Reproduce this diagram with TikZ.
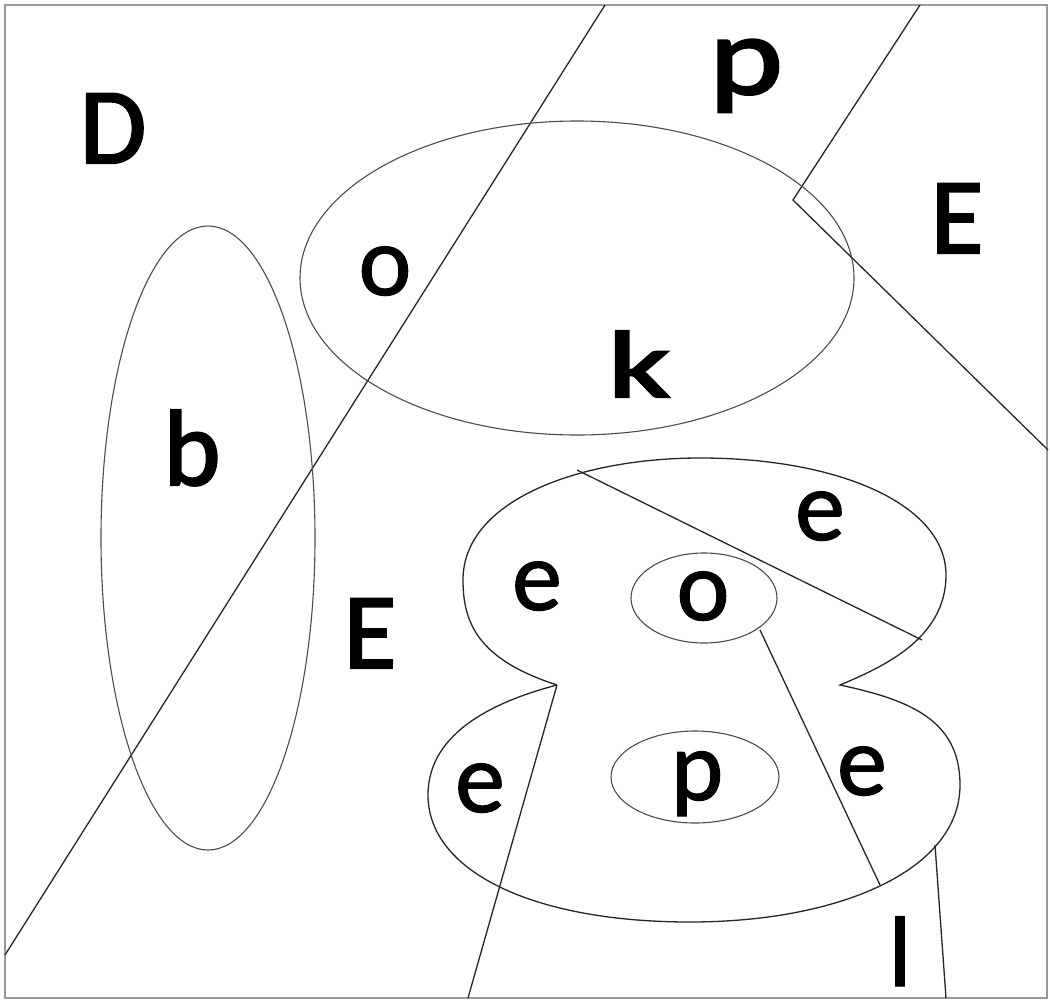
\documentclass[tikz,border=0pt]{standalone}
\usepackage{fontspec}
\setmainfont{Carlito}
\newfontface\heavyface{Carlito}[FakeBold=2.2]
\newfontface\medface{Carlito}[FakeBold=1.2]
\begin{document}
\begin{tikzpicture}[x=1pt,y=-1pt,
  lbl/.style={inner sep=0pt,anchor=base,font=\fontsize{100}{100}\medface},
  big/.style={inner sep=0pt,anchor=base,font=\fontsize{108}{108}\heavyface},
  ln/.style={line width=1.3pt,black!85},
  el/.style={line width=1.1pt,black!70}]
\useasboundingbox (0,0) rectangle (1050,1001);
\fill[white] (0,0) rectangle (1050,1001);
\draw[line width=1.5pt,black!40] (5,5) rectangle (1047,998);
% lines
\draw[ln] (5,955) -- (605,5);
\draw[ln] (920,5) -- (793,200) -- (1048,450);
% ellipses
\draw[el] (577,278) ellipse [x radius=277,y radius=157];
\draw[el] (208,538) ellipse [x radius=107,y radius=312];
% figure eight
\coordinate (nl) at (557,685);
\coordinate (nr) at (840,685);
\draw[ln] (nl) .. controls (480,660) and (463,625) .. (463,580)
  .. controls (463,500) and (580,458) .. (700,458)
  .. controls (840,458) and (946,505) .. (946,575)
  .. controls (946,640) and (880,668) .. (nr)
  .. controls (910,700) and (960,720) .. (960,785)
  .. controls (960,870) and (840,922) .. (690,922)
  .. controls (530,922) and (428,870) .. (428,795)
  .. controls (428,730) and (500,700) .. (nl);
\draw[ln] (577,470) -- (922,640);
\draw[el] (704,598) ellipse [x radius=73,y radius=45];
\draw[el] (695,777) ellipse [x radius=84,y radius=46];
\draw[ln] (760,630) -- (880,885);
\draw[ln] (nl) -- (468,998);
\draw[ln] (935,845) -- (946,998);
% labels
\node[big] (D) at (113,163) {D};
\node[big,font=\fontsize{112}{112}\heavyface] (p1) at (746,94) {\scalebox{1.25}[1]{p}};
\node[big] (E1) at (957,253) {E};
\node[lbl] (o1) at (385,295) {o};
\node[big,font=\fontsize{95}{95}\heavyface] (k) at (639,397) {\scalebox{1.45}[1]{k}};
\node[big] (b) at (192,485) {b};
\node[big] (E2) at (370,668) {E};
\node[lbl] (e1) at (820,540) {e};
\node[lbl] (e2) at (537,610) {e};
\node[lbl] (o2) at (703,620) {o};
\node[lbl] (e3) at (480,812) {e};
\node[lbl] (p2) at (697,800) {p};
\node[lbl] (e4) at (862,795) {e};
\node[lbl] (l) at (900,986) {l};
\end{tikzpicture}
\end{document}
